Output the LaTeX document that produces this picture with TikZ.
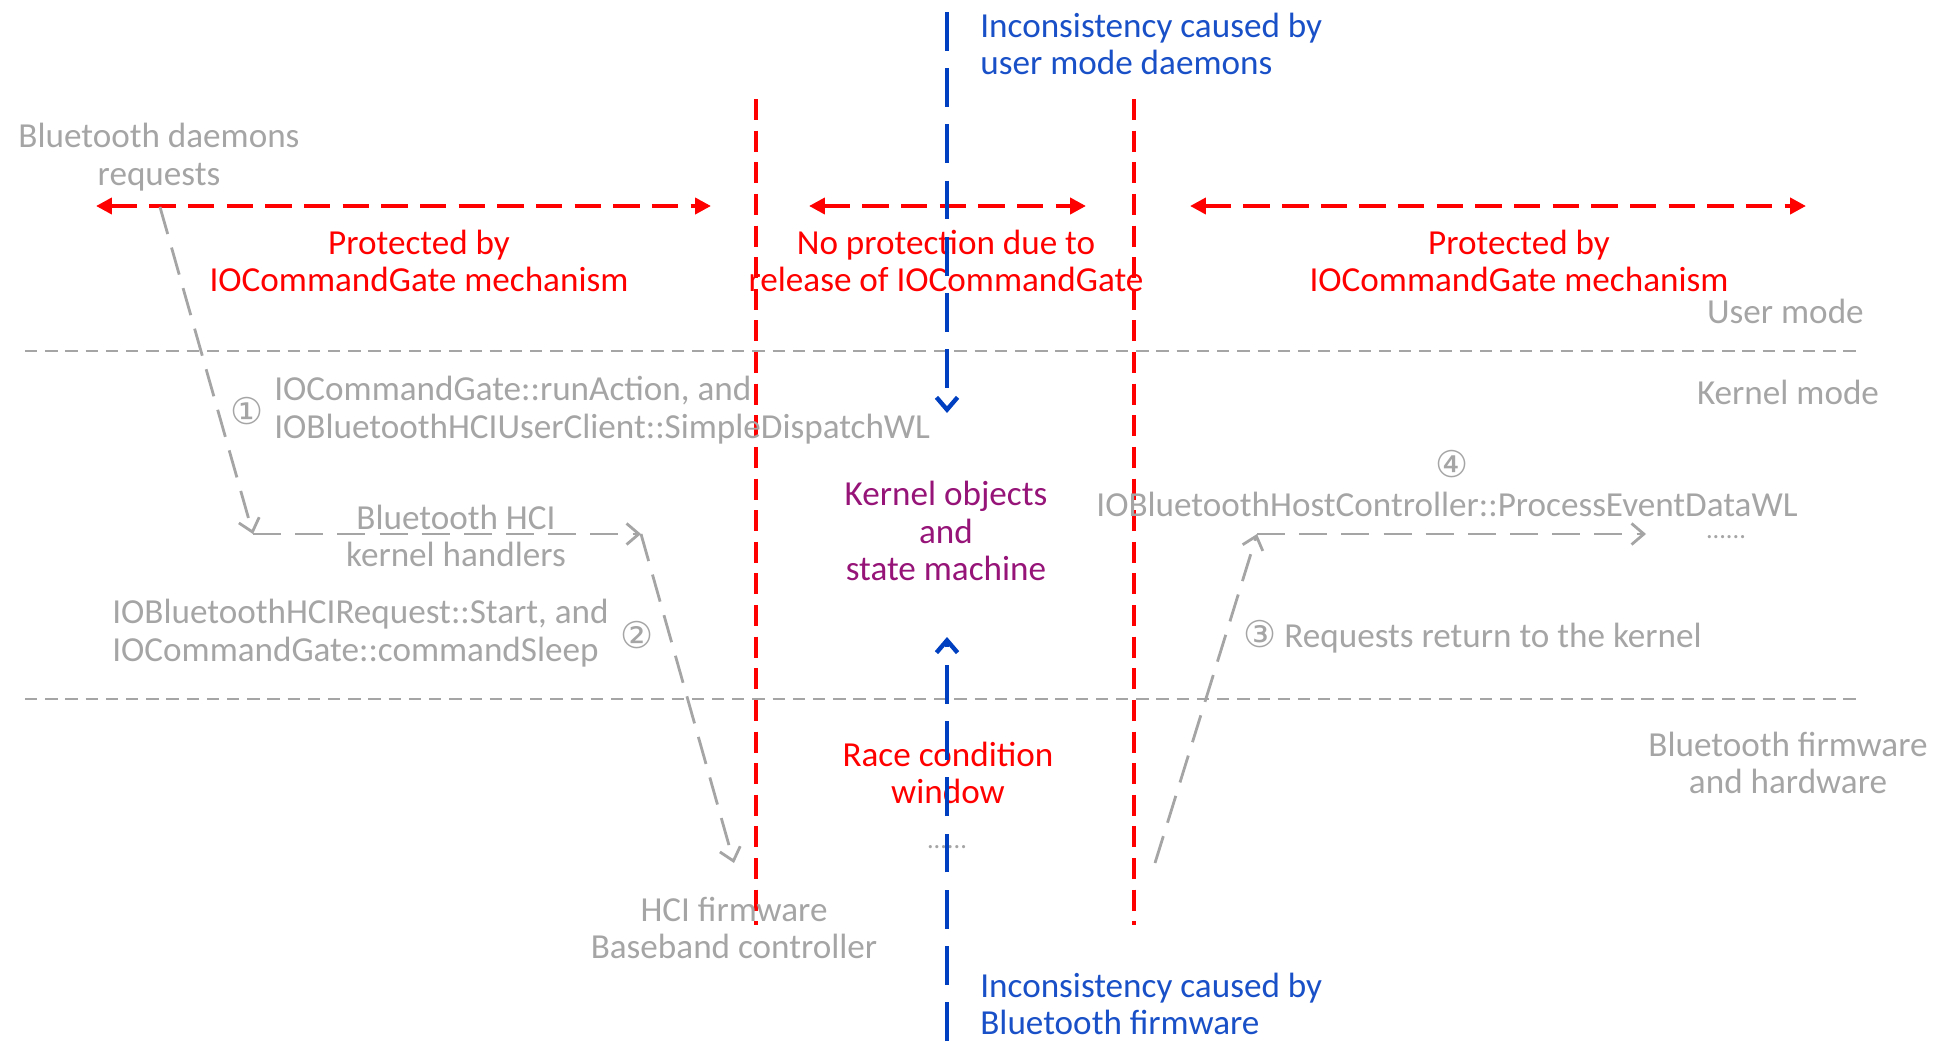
\documentclass[tikz,border=0pt]{standalone}
\usepackage{fontspec}
\setmainfont{Carlito}
\newfontfamily\circfont{DejaVu Sans}
\usepackage{tikz}
\usetikzlibrary{arrows.meta, positioning}
\definecolor{gatered}{RGB}{255,0,0}
\definecolor{incblue}{RGB}{0,64,192}
\definecolor{textblue}{RGB}{25,80,200}
\definecolor{objpurple}{RGB}{150,20,120}
\definecolor{flowgray}{RGB}{165,165,165}

\begin{document}
\begin{tikzpicture}[
  x=0.02cm, y=-0.02cm,
  txt/.style={inner sep=0pt, align=center, font=\fontsize{20}{21.5}\selectfont},
  graytxt/.style={txt, text=flowgray},
  redtxt/.style={txt, text=gatered},
  bluetxt/.style={txt, align=left, text=textblue},
  num/.style={inner sep=0pt, text=flowgray, font=\circfont\fontsize{21}{22}\selectfont},
  dots/.style={inner sep=0pt, anchor=base, text=flowgray, font=\fontsize{15}{16}\selectfont},
  modeline/.style={flowgray, line width=1.6pt, dash pattern=on 7pt off 4.5pt},
  gateline/.style={gatered, line width=1.9pt, dash pattern=on 12pt off 6pt},
  gatearrow/.style={{Triangle[length=9pt,width=9pt]}-{Triangle[length=9pt,width=9pt]}, gatered, line width=2.3pt, dash pattern=on 15pt off 7pt},
  incline/.style={incblue, line width=2.5pt, dash pattern=on 22pt off 10pt},
  incarrow/.style={incline, -{Straight Barb[length=7pt,width=12pt]}},
  flow/.style={-{Straight Barb[length=7pt,width=12pt]}, flowgray, line width=1.6pt, dash pattern=on 16pt off 8pt}
]
\useasboundingbox (0,0) rectangle (1933,1041);

% layer labels
\node[graytxt, anchor=east] (user) at (1864,311) {User mode};
\node[graytxt] (kernel) at (1788,392) {Kernel mode};
\node[graytxt] (firmware) at (1788,763) {Bluetooth firmware\\and hardware};
\draw[modeline] (25,351) -- (1862,351);
\draw[modeline] (25,699) -- (1862,699);

% protection ranges
\node[redtxt] (protl) at (419,261) {Protected by\\IOCommandGate mechanism};
\node[redtxt] (noprot) at (946,261) {No protection due to\\release of IOCommandGate};
\node[redtxt] (protr) at (1519,261) {Protected by\\IOCommandGate mechanism};
\node[redtxt] (race) at (948,773) {Race condition\\window};
\draw[gatearrow] (96,206) -- (711,206);
\draw[gatearrow] (809,206) -- (1086,206);
\draw[gatearrow] (1190,206) -- (1806,206);
\draw[gateline] (756,99) -- (756,925);
\draw[gateline] (1134,99) -- (1134,925);

% kernel objects and inconsistency sources
\node[txt, text=objpurple] (kobj) at (946,531) {Kernel objects\\and\\state machine};
\node[bluetxt, anchor=west] (incusr) at (980,44) {Inconsistency caused by\\user mode daemons};
\node[bluetxt, anchor=west] (incfw) at (980,1004) {Inconsistency caused by\\Bluetooth firmware};
\node[dots] (racedots) at (947,848) {......};
\coordinate (usrtop) at (947,12);
\coordinate (usrtip) at (947,413);
\coordinate (fwbot) at (947,1041);
\coordinate (fwtip) at (947,637);
\draw[incarrow] (usrtop) -- (usrtip);
\draw[incarrow] (fwbot) -- (fwtip);

% request path
\node[graytxt] (daemons) at (159,157) {Bluetooth daemons\\requests};
\node[num] (n1) at (247,411) {①};
\node[graytxt, anchor=west, align=left] (runact) at (274,410) {IOCommandGate::runAction, and\\IOBluetoothHCIUserClient::SimpleDispatchWL};
\node[graytxt] (hci) at (456,536) {Bluetooth HCI\\kernel handlers};
\node[graytxt, anchor=east, align=left] (hcireq) at (609,633) {IOBluetoothHCIRequest::Start, and\\IOCommandGate::commandSleep};
\node[num] (n2) at (637,635) {②};
\node[graytxt] (baseband) at (734,928) {HCI firmware\\Baseband controller};
\coordinate (req) at (160,207);
\coordinate (hcil) at (253,534);
\coordinate (hcir) at (641,534);
\coordinate (bbtop) at (734,863);
\draw[flow] (req) -- (hcil);
\draw[flow] (hcil) -- (hcir);
\draw[flow] (hcir) -- (bbtop);

% return path
\node[num] (n4) at (1452,464) {④};
\node[graytxt] (evt) at (1447,504) {IOBluetoothHostController::ProcessEventDataWL};
\node[graytxt, anchor=west] (ret) at (1243,637) {{\circfont\fontsize{21}{22}\selectfont③} Requests return to the kernel};
\node[dots] (evtdots) at (1726,538) {......};
\coordinate (fwout) at (1155,863);
\coordinate (evtl) at (1257,534);
\coordinate (evtr) at (1646,534);
\draw[flow] (fwout) -- (evtl);
\draw[flow] (evtl) -- (evtr);
\end{tikzpicture}
\end{document}
